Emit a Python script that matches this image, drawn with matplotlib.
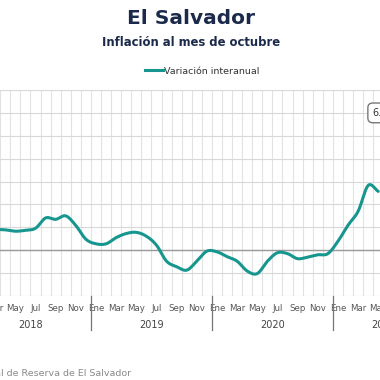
import numpy as np
import matplotlib
matplotlib.use('Agg')
import matplotlib.pyplot as plt
import matplotlib.transforms as mtransforms

# data: monthly year-on-year inflation, starting March 2018
meses = ['Ene', 'Feb', 'Mar', 'Abr', 'May', 'Jun', 'Jul', 'Ago', 'Sep', 'Oct', 'Nov', 'Dic']
anios = [2018, 2019, 2020, 2021]
n_meses_2021 = 10  # axis runs to Oct 2021
inicio = 2  # first value is Mar 2018
variacion = [0.91, 0.89, 0.83, 0.87, 0.96, 1.41, 1.35, 1.50, 1.08, 0.48,
             0.28, 0.28, 0.55, 0.73, 0.78, 0.61, 0.22, -0.48, -0.72, -0.87, -0.48, -0.04,
             -0.07, -0.28, -0.48, -0.91, -1.02, -0.48, -0.11, -0.15, -0.37, -0.30, -0.20, -0.15,
             0.39, 1.09, 1.70, 2.83, 2.57]
etiqueta_ultimo = '6.0%'

TEAL = '#17968f'
NAVY = '#1b2a4a'


def spline(x, y, steps=20):
    """Catmull-Rom curve through the points (drawing only)."""
    x = np.asarray(x, float)
    y = np.asarray(y, float)
    px = np.concatenate([[2 * x[0] - x[1]], x, [2 * x[-1] - x[-2]]])
    py = np.concatenate([[2 * y[0] - y[1]], y, [2 * y[-1] - y[-2]]])
    xs, ys = [], []
    t = np.linspace(0, 1, steps, endpoint=False)
    for i in range(1, len(px) - 2):
        for arr, out in ((px, xs), (py, ys)):
            p0, p1, p2, p3 = arr[i - 1], arr[i], arr[i + 1], arr[i + 2]
            out.extend(0.5 * ((2 * p1) + (-p0 + p2) * t
                              + (2 * p0 - 5 * p1 + 4 * p2 - p3) * t ** 2
                              + (-p0 + 3 * p1 - 3 * p2 + p3) * t ** 3))
    xs.append(x[-1])
    ys.append(y[-1])
    return np.array(xs), np.array(ys)


n_total = 12 * (len(anios) - 1) + n_meses_2021
x = np.arange(inicio, inicio + len(variacion))

fig = plt.figure(figsize=(3.8, 3.8), dpi=100)
ax = fig.add_axes([-30 / 380, 84 / 380, 463.7 / 380, 206 / 380])

ax.set_xlim(-0.5, n_total - 0.5)
ax.set_ylim(-2, 7)

# grid
for b in np.arange(-0.5, n_total, 1):
    ax.axvline(b, color='#e2e2e2', lw=0.8, zorder=0)
for v in range(-2, 8):
    ax.axhline(v, color='#d8d8d8', lw=0.8, zorder=0)
ax.axhline(0, color='#9a9a9a', lw=1.0, zorder=1)

xs, ys = spline(x, variacion)
ax.plot(xs, ys, color=TEAL, lw=2.2, solid_capstyle='round', zorder=3)

for s in ax.spines.values():
    s.set_visible(False)

# month labels every two months
ticks = [m for m in range(n_total) if m % 2 == 0]
ax.set_xticks(ticks)
ax.set_xticklabels([meses[m % 12] for m in ticks], fontsize=6.2, color='#555555')
ax.tick_params(axis='x', length=0, pad=6)
ax.set_yticks([])

trans = mtransforms.blended_transform_factory(ax.transData, ax.transAxes)
for i, anio in enumerate(anios):
    first = 12 * i
    last = min(12 * i + 11, n_total - 1)
    ax.text((first + last) / 2, -0.142, str(anio), transform=trans,
            ha='center', va='center', fontsize=7, color='#444444')
    ax.plot([first - 0.5, first - 0.5], [0, -0.167], transform=trans,
            color='#777777', lw=0.9, clip_on=False)

# label box on the last value
ax.text(39.45, 6.0, etiqueta_ultimo, fontsize=7, color='#333333', ha='left', va='center',
        bbox=dict(boxstyle='round,pad=0.5', fc='white', ec='#777777', lw=1.0), zorder=5)

fig.text(0.503, 1 - 18 / 380, 'El Salvador', ha='center', va='center',
         fontsize=14.5, fontweight='bold', color=NAVY)
fig.text(0.503, 1 - 42 / 380, 'Inflación al mes de octubre', ha='center', va='center',
         fontsize=8.4, fontweight='bold', color=NAVY)

fig.legend([plt.Line2D([], [], color=TEAL, lw=2.2)], ['Variación interanual'],
           loc='center', bbox_to_anchor=(202 / 380, 1 - 71 / 380), frameon=False,
           fontsize=6.8, handlelength=1.9, handletextpad=0.15, labelcolor='#333333')

fig.text(131 / 380, 1 - 373 / 380, 'Fuente: Banco Central de Reserva de El Salvador',
         ha='right', va='center', fontsize=6.8, color='#8a8a8a')

fig.savefig('out.png', dpi=100)
plt.close('all')
